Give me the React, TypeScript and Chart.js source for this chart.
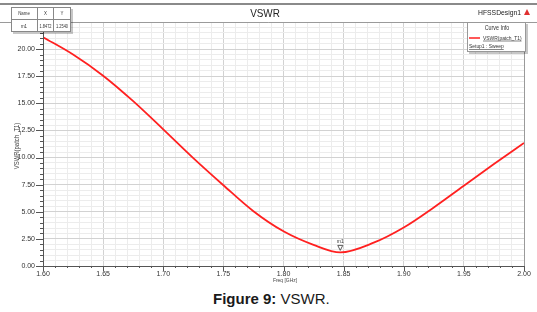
import React, { useEffect, useRef } from "react";
import { Chart, registerables } from "chart.js";

Chart.register(...registerables);

const freqs = [1.6, 1.625, 1.65, 1.675, 1.7, 1.725, 1.75, 1.775, 1.8, 1.825, 1.8472, 1.875, 1.9, 1.925, 1.95, 1.975, 2.0];
const vswr = [21.1, 19.5, 17.55, 15.2, 12.6, 9.95, 7.45, 5.05, 3.2, 1.95, 1.254, 2.15, 3.55, 5.4, 7.4, 9.4, 11.35];
const markerName = "m1";
const markerX = 1.8472;
const markerY = 1.254;
const chartTitle = "VSWR";
const designName = "HFSSDesign1";
const seriesName = "VSWR(patch_T1)";
const setupName = "Setup1 : Sweep";
const xTitle = "Freq [GHz]";
const yTitle = "VSWR(patch_T1)";

const FONT = "'Liberation Sans', Arial, sans-serif";

function narrowText(c: any, text: string, x: number, y: number, sx = 0.82) {
  c.save();
  c.translate(x, y);
  c.scale(sx, 1);
  c.fillText(text, 0, 0);
  c.restore();
}

const decor = {
  id: "decor",
  beforeDraw(chart: any) {
    const c = chart.ctx;
    c.save();
    c.fillStyle = "#ffffff";
    c.fillRect(0, 0, chart.width, chart.height);
    c.restore();
  },
  afterDraw(chart: any) {
    const c = chart.ctx;
    const a = chart.chartArea;
    const xs = chart.scales.x;
    const ys = chart.scales.y;
    c.save();
    // top bar line
    c.strokeStyle = "#8a8a8a";
    c.lineWidth = 2;
    c.beginPath();
    c.moveTo(0, 4);
    c.lineTo(chart.width, 4);
    c.stroke();
    // plot frame
    c.lineWidth = 1;
    c.strokeStyle = "#9a9a9a";
    c.beginPath();
    c.moveTo(0, a.top + 0.5);
    c.lineTo(chart.width, a.top + 0.5);
    c.moveTo(a.right + 0.5, a.top);
    c.lineTo(a.right + 0.5, a.bottom);
    c.stroke();
    c.strokeStyle = "#555";
    c.beginPath();
    c.moveTo(a.left + 0.5, a.top);
    c.lineTo(a.left + 0.5, a.bottom + 0.5);
    c.lineTo(a.right + 1, a.bottom + 0.5);
    c.stroke();
    // tick marks
    c.strokeStyle = "#555";
    c.beginPath();
    for (let i = 0; i <= 45; i++) {
      const v = i * 0.5;
      const py = Math.round(ys.getPixelForValue(v)) + 0.5;
      const major = i % 5 === 0;
      c.moveTo(a.left - (major ? 7 : 3), py);
      c.lineTo(a.left, py);
    }
    for (let i = 0; i <= 40; i++) {
      const v = 1.6 + i * 0.01;
      const px = Math.round(xs.getPixelForValue(v)) + 0.5;
      const major = i % 5 === 0;
      c.moveTo(px, a.bottom);
      c.lineTo(px, a.bottom + (major ? 5 : 2));
    }
    c.stroke();
    // title
    c.fillStyle = "#222";
    c.textBaseline = "middle";
    c.textAlign = "center";
    c.font = `11px ${FONT}`;
    narrowText(c, chartTitle, 265, 14, 0.9);
    c.font = `8px ${FONT}`;
    c.textAlign = "left";
    narrowText(c, designName, 478, 13, 0.85);
    // red triangle
    c.fillStyle = "#e03030";
    c.beginPath();
    c.moveTo(527, 9);
    c.lineTo(530, 15);
    c.lineTo(524, 15);
    c.closePath();
    c.fill();
    // legend box
    c.fillStyle = "rgba(0,0,0,0.22)";
    c.fillRect(469, 24, 59, 30);
    c.fillStyle = "#fff";
    c.fillRect(467, 22, 59, 30);
    c.strokeStyle = "#999";
    c.strokeRect(467.5, 22.5, 58, 29);
    c.fillStyle = "#333";
    c.textAlign = "center";
    c.font = `6.5px ${FONT}`;
    narrowText(c, "Curve Info", 497, 28);
    c.strokeStyle = "#ff2020";
    c.lineWidth = 1.5;
    c.beginPath();
    c.moveTo(469, 38);
    c.lineTo(480, 38);
    c.stroke();
    c.textAlign = "left";
    c.font = `6px ${FONT}`;
    c.fillStyle = "#333";
    narrowText(c, seriesName, 483, 38);
    narrowText(c, setupName, 469, 46.5);
    c.lineWidth = 0.6;
    c.strokeStyle = "#333";
    const w1 = c.measureText(seriesName).width * 0.82;
    const w2 = c.measureText(setupName).width * 0.82;
    c.beginPath();
    c.moveTo(483, 41);
    c.lineTo(483 + w1, 41);
    c.moveTo(469, 49.5);
    c.lineTo(469 + w2, 49.5);
    c.stroke();
    // marker table
    c.fillStyle = "rgba(0,0,0,0.22)";
    c.fillRect(13, 9, 60, 25);
    c.fillStyle = "#fff";
    c.fillRect(11, 7, 60, 25);
    c.strokeStyle = "#888";
    c.lineWidth = 1;
    c.strokeRect(11.5, 7.5, 59, 24);
    c.beginPath();
    c.moveTo(11, 19.5);
    c.lineTo(71, 19.5);
    c.moveTo(37.5, 7);
    c.lineTo(37.5, 32);
    c.moveTo(53.5, 7);
    c.lineTo(53.5, 32);
    c.stroke();
    c.fillStyle = "#333";
    c.textAlign = "center";
    c.font = `5.5px ${FONT}`;
    narrowText(c, "Name", 24, 13.5, 0.8);
    narrowText(c, "X", 45.5, 13.5, 0.8);
    narrowText(c, "Y", 62, 13.5, 0.8);
    narrowText(c, markerName, 24, 26, 0.8);
    narrowText(c, markerX.toFixed(4), 45.5, 26, 0.72);
    narrowText(c, markerY.toFixed(4), 62, 26, 0.72);
    // marker on curve
    const mx = xs.getPixelForValue(markerX);
    const my = ys.getPixelForValue(markerY);
    c.fillStyle = "#333";
    c.font = `6px ${FONT}`;
    narrowText(c, markerName, mx, my - 11);
    c.strokeStyle = "#333";
    c.lineWidth = 0.8;
    c.beginPath();
    c.moveTo(mx - 2.5, my - 7);
    c.lineTo(mx + 2.5, my - 7);
    c.lineTo(mx, my - 2);
    c.closePath();
    c.stroke();
    // axis titles
    c.font = `6px ${FONT}`;
    c.fillStyle = "#444";
    narrowText(c, xTitle, 285, 280);
    c.save();
    c.translate(17, 146);
    c.rotate(-Math.PI / 2);
    c.font = `7px ${FONT}`;
    narrowText(c, yTitle, 0, 0, 0.85);
    c.restore();
    c.restore();
  },
};

export default function App() {
  const ref = useRef<HTMLCanvasElement>(null);
  useEffect(() => {
    document.body.style.margin = "0";
    const points = freqs.map((f, i) => ({ x: f, y: vswr[i] }));
    const chart = new Chart(ref.current as HTMLCanvasElement, {
      type: "scatter",
      data: {
        datasets: [
          {
            label: seriesName,
            data: points,
            showLine: true,
            borderColor: "#ff2020",
            borderWidth: 1.8,
            pointRadius: 0,
            cubicInterpolationMode: "monotone",
          },
        ],
      },
      options: {
        animation: false,
        responsive: true,
        maintainAspectRatio: false,
        layout: { padding: { top: 22, right: 13, left: 0, bottom: 0 } },
        plugins: { legend: { display: false }, tooltip: { enabled: false }, title: { display: false } },
        scales: {
          x: {
            type: "linear",
            min: 1.6,
            max: 2.0,
            border: { display: false },
            afterFit: (s: any) => {
              s.height = 24;
            },
            grid: {
              drawTicks: false,
              color: (ctx: any) => {
                const k = Math.round(ctx.tick.value * 100);
                return k % 5 === 0 ? "#d2d2d2" : "#ececec";
              },
            },
            ticks: {
              stepSize: 0.01,
              autoSkip: false,
              maxRotation: 0,
              padding: 4,
              color: "#333",
              font: { size: 7, family: FONT },
              callback: (v: any) => {
                const k = Math.round(Number(v) * 100);
                return k % 5 === 0 ? (k / 100).toFixed(2) : "";
              },
            },
          },
          y: {
            min: 0,
            max: 22.5,
            border: { display: false },
            afterFit: (s: any) => {
              s.width = 43;
            },
            grid: {
              drawTicks: false,
              color: (ctx: any) => {
                const k = Math.round(ctx.tick.value * 2);
                return k % 5 === 0 ? "#d2d2d2" : "#ececec";
              },
            },
            ticks: {
              stepSize: 0.5,
              autoSkip: false,
              padding: 8,
              color: "#333",
              font: { size: 7, family: FONT },
              callback: (v: any) => {
                const k = Math.round(Number(v) * 2);
                return k % 5 === 0 && Number(v) <= 20 ? Number(v).toFixed(2) : "";
              },
            },
          },
        },
      },
      plugins: [decor],
    });
    return () => chart.destroy();
  }, []);
  return (
    <div style={{ position: "relative", width: 537, height: 312, background: "#fff" }}>
      <div style={{ position: "absolute", left: 0, top: 0, width: 537, height: 290 }}>
        <canvas ref={ref} />
      </div>
      <div
        style={{
          position: "absolute",
          left: 213,
          top: 291,
          fontFamily: FONT,
          fontSize: 15,
          lineHeight: "15px",
          color: "#1a1a1a",
          whiteSpace: "nowrap",
        }}
      >
        <b>Figure 9:</b> VSWR.
      </div>
    </div>
  );
}
